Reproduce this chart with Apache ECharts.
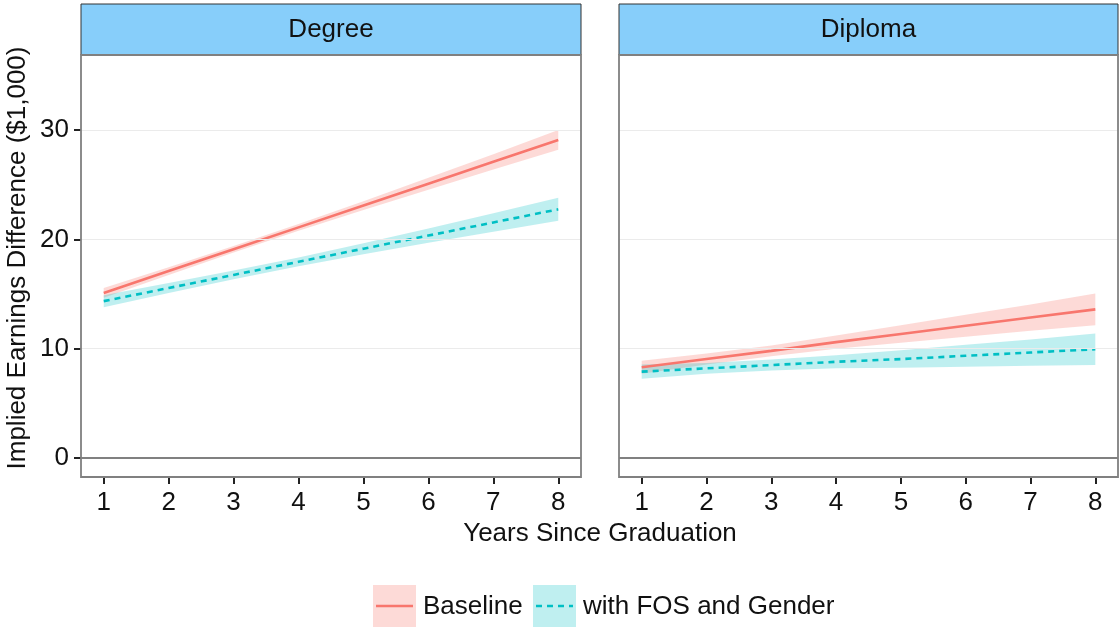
<!DOCTYPE html>
<html lang="en">
<head>
    <meta charset="UTF-8">
    <title>Implied Earnings Difference</title>
    <script src="https://cdn.jsdelivr.net/npm/echarts@6/dist/echarts.min.js"></script>
    <style>
        body { margin: 0; padding: 0; background: #fff; }
        #chart { width: 1119px; height: 628px; }
    </style>
</head>
<body>
    <div id="chart"></div>
    <script>
        // values
        var years = [1, 2, 3, 4, 5, 6, 7, 8];
        var panels = ['Degree', 'Diploma'];
        var seriesNames = ['Baseline', 'with FOS and Gender'];
        var yTicks = [0, 10, 20, 30];

        var degBase   = [15.1, 17.1, 19.1, 21.1, 23.1, 25.1, 27.1, 29.1];
        var degBaseLo = [14.65, 16.75, 18.8, 20.8, 22.7, 24.55, 26.4, 28.2];
        var degBaseHi = [15.55, 17.45, 19.4, 21.4, 23.5, 25.65, 27.8, 30.0];
        var degFos    = [14.35, 15.55, 16.75, 17.95, 19.15, 20.35, 21.55, 22.75];
        var degFosLo  = [13.8, 15.1, 16.35, 17.55, 18.65, 19.7, 20.7, 21.7];
        var degFosHi  = [14.9, 16.0, 17.15, 18.35, 19.65, 21.0, 22.4, 23.8];

        var dipBase   = [8.3, 9.05, 9.8, 10.6, 11.35, 12.1, 12.85, 13.6];
        var dipBaseLo = [7.7, 8.55, 9.3, 10.0, 10.55, 11.1, 11.65, 12.15];
        var dipBaseHi = [8.9, 9.55, 10.3, 11.2, 12.15, 13.1, 14.05, 15.05];
        var dipFos    = [7.9, 8.2, 8.5, 8.8, 9.05, 9.35, 9.65, 9.95];
        var dipFosLo  = [7.25, 7.7, 8.0, 8.2, 8.25, 8.35, 8.45, 8.5];
        var dipFosHi  = [8.55, 8.7, 9.0, 9.4, 9.85, 10.35, 10.85, 11.4];

        var red = '#F8766D', cyan = '#00BFC4';
        var redFill = 'rgba(248,118,109,0.27)', cyanFill = 'rgba(0,191,196,0.25)';
        var font = 'Liberation Sans, Arial, sans-serif';
        var fs = 26;
        var lw = 2.6;

        var chart = echarts.init(document.getElementById('chart'));

        function pairs(ys) {
            return years.map(function (x, i) { return [x, ys[i]]; });
        }

        function ribbon(name, idx, lo, hi, fill) {
            return {
                name: name, type: 'custom', xAxisIndex: idx, yAxisIndex: idx,
                data: years.map(function (x, i) { return [x, lo[i], hi[i]]; }),
                encode: { x: 0, y: [1, 2] },
                silent: true,
                renderItem: function (params, api) {
                    if (params.dataIndex !== 0) return;
                    var pts = [];
                    for (var i = 0; i < years.length; i++) pts.push(api.coord([years[i], hi[i]]));
                    for (var j = years.length - 1; j >= 0; j--) pts.push(api.coord([years[j], lo[j]]));
                    return { type: 'polygon', shape: { points: pts }, style: { fill: fill } };
                }
            };
        }

        function line(name, idx, ys, color, dashed) {
            return {
                name: name, type: 'line', xAxisIndex: idx, yAxisIndex: idx,
                data: pairs(ys), showSymbol: false, silent: true,
                lineStyle: { color: color, width: lw, type: dashed ? [6, 5] : 'solid' }
            };
        }

        function guides(idx) {
            // horizontal grid lines and the zero line
            var lines = yTicks.filter(function (v) { return v !== 0; }).map(function (v) {
                return { yAxis: v, lineStyle: { color: '#EBEBEB', width: 1.2, type: 'solid' } };
            });
            lines.push({ yAxis: 0, lineStyle: { color: '#808080', width: 1.8, type: 'solid' } });
            return {
                type: 'line', xAxisIndex: idx, yAxisIndex: idx, data: [], silent: true,
                markLine: { symbol: 'none', label: { show: false }, silent: true, animation: false, data: lines }
            };
        }

        var grids = [
            { left: 81, top: 55, width: 500, height: 422 },
            { left: 619, top: 55, width: 499, height: 422 }
        ];

        function xAxis(idx) {
            return {
                type: 'value', gridIndex: idx, min: 0.65, max: 8.35,
                axisLine: { show: false, onZero: false },
                splitLine: { show: false },
                axisTick: { show: true, length: 7, customValues: years, lineStyle: { color: '#222', width: 2 } },
                axisLabel: { customValues: years, margin: 13, fontSize: fs, color: '#111', fontFamily: font }
            };
        }
        function yAxis(idx) {
            return {
                type: 'value', gridIndex: idx, min: -1.74, max: 36.87,
                axisLine: { show: false, onZero: false },
                splitLine: { show: false },
                axisTick: { show: idx === 0, length: 7, customValues: yTicks, lineStyle: { color: '#222', width: 2 } },
                axisLabel: { show: idx === 0, customValues: yTicks, margin: 12, fontSize: fs, color: '#111', fontFamily: font }
            };
        }

        var graphics = [];
        grids.forEach(function (g, i) {
            graphics.push({
                type: 'rect', z: 10,
                shape: { x: g.left, y: 4, width: g.width, height: 51 },
                style: { fill: '#87CEFA', stroke: '#333', lineWidth: 1 }
            });
            graphics.push({
                type: 'rect', z: 11, silent: true,
                shape: { x: g.left, y: g.top, width: g.width, height: g.height },
                style: { fill: 'none', stroke: '#808080', lineWidth: 1.8 }
            });
            graphics.push({
                type: 'text', x: g.left + g.width / 2, y: 30, z: 12,
                style: { text: panels[i], fontSize: fs, fontFamily: font, fill: '#111', align: 'center', verticalAlign: 'middle' }
            });
        });
        // axis titles
        graphics.push({
            type: 'text', x: 600, y: 534,
            style: { text: 'Years Since Graduation', fontSize: fs, fontFamily: font, fill: '#111', align: 'center', verticalAlign: 'middle' }
        });
        graphics.push({
            type: 'text', x: 18, y: 258, rotation: Math.PI / 2,
            style: { text: 'Implied Earnings Difference ($1,000)', fontSize: fs, fontFamily: font, fill: '#111', align: 'center', verticalAlign: 'middle' }
        });
        // legend keys
        graphics.push({ type: 'rect', shape: { x: 373, y: 585, width: 43, height: 42 }, style: { fill: redFill } });
        graphics.push({ type: 'line', shape: { x1: 376, y1: 606, x2: 413, y2: 606 }, style: { stroke: red, lineWidth: lw } });
        graphics.push({
            type: 'text', x: 423, y: 607,
            style: { text: seriesNames[0], fontSize: fs, fontFamily: font, fill: '#111', align: 'left', verticalAlign: 'middle' }
        });
        graphics.push({ type: 'rect', shape: { x: 533, y: 585, width: 43, height: 42 }, style: { fill: cyanFill } });
        graphics.push({ type: 'line', shape: { x1: 536, y1: 606, x2: 573, y2: 606 }, style: { stroke: cyan, lineWidth: lw, lineDash: [6, 5] } });
        graphics.push({
            type: 'text', x: 583, y: 607,
            style: { text: seriesNames[1], fontSize: fs, fontFamily: font, fill: '#111', align: 'left', verticalAlign: 'middle' }
        });

        var option = {
            animation: false,
            backgroundColor: '#fff',
            grid: grids,
            xAxis: [xAxis(0), xAxis(1)],
            yAxis: [yAxis(0), yAxis(1)],
            series: [
                guides(0), guides(1),
                ribbon(seriesNames[0], 0, degBaseLo, degBaseHi, redFill),
                ribbon(seriesNames[1], 0, degFosLo, degFosHi, cyanFill),
                ribbon(seriesNames[0], 1, dipBaseLo, dipBaseHi, redFill),
                ribbon(seriesNames[1], 1, dipFosLo, dipFosHi, cyanFill),
                line(seriesNames[0], 0, degBase, red, false),
                line(seriesNames[1], 0, degFos, cyan, true),
                line(seriesNames[0], 1, dipBase, red, false),
                line(seriesNames[1], 1, dipFos, cyan, true)
            ],
            graphic: graphics
        };

        chart.setOption(option);
    </script>
</body>
</html>
